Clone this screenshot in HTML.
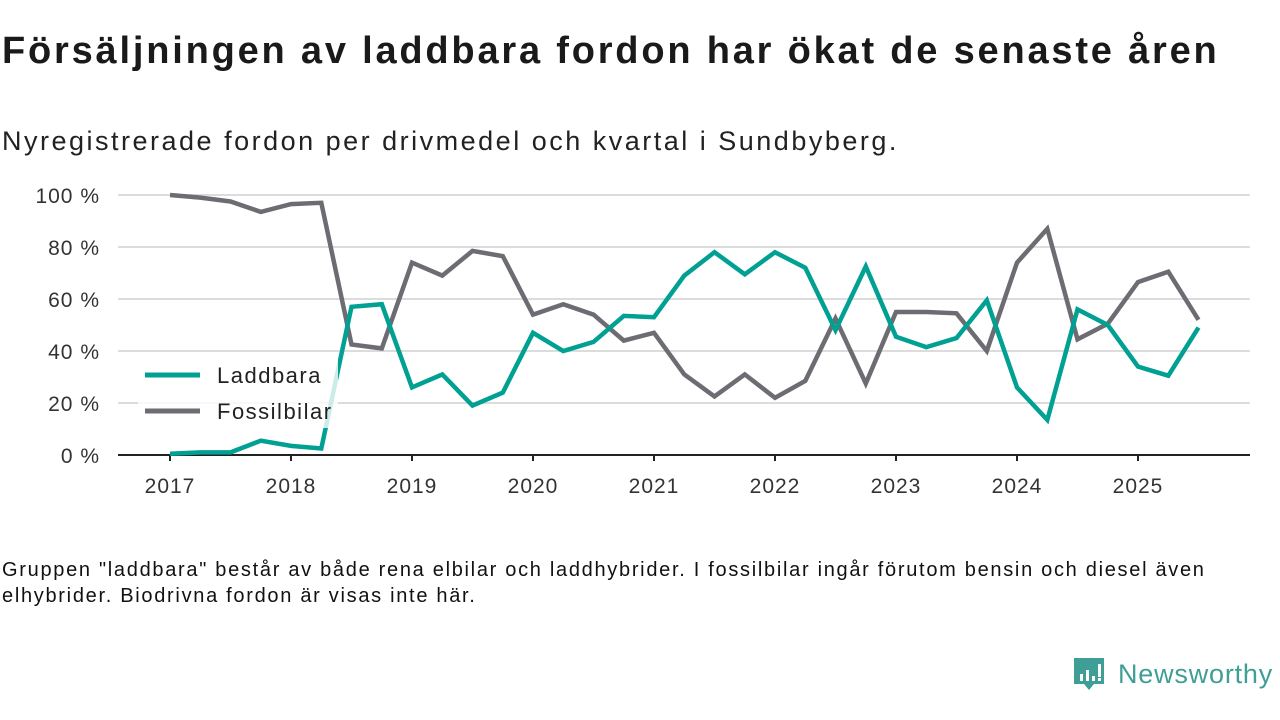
<!DOCTYPE html>
<html><head><meta charset="utf-8"><style>
body{margin:0;width:1280px;height:720px;background:#fff;font-family:"Liberation Sans","DejaVu Sans",sans-serif;overflow:hidden;position:relative;color:#111}
#title{position:absolute;left:2px;top:30px;font-size:38px;font-weight:bold;color:#1a1a1a;white-space:nowrap;letter-spacing:2.8px}
#sub{position:absolute;left:2px;top:126px;font-size:27px;color:#222;white-space:nowrap;letter-spacing:2.5px}
#note{position:absolute;left:2px;top:557px;font-size:20px;line-height:26px;color:#111;width:1230px;letter-spacing:1.7px}
#logo{position:absolute;left:1072px;top:656px}
svg text{font-family:"Liberation Sans","DejaVu Sans",sans-serif}
</style></head><body>
<div id="title">Försäljningen av laddbara fordon har ökat de senaste åren</div>
<div id="sub">Nyregistrerade fordon per drivmedel och kvartal i Sundbyberg.</div>
<svg id="chart" width="1280" height="520" style="position:absolute;left:0;top:0"></svg>
<div id="note">Gruppen "laddbara" består av både rena elbilar och laddhybrider. I fossilbilar ingår förutom bensin och diesel även<br>elhybrider. Biodrivna fordon är visas inte här.</div>
<div id="logo">
<svg width="210" height="40"><path d="M2 2h30v26h-10l-5 6-5-6H2z" fill="#3f9e96"/><rect x="8" y="18" width="3" height="7" fill="#fff"/><rect x="14" y="14" width="3" height="11" fill="#fff"/><rect x="20" y="20" width="3" height="5" fill="#fff"/><rect x="26" y="8" width="3" height="13" fill="#fff"/><rect x="26" y="22" width="3" height="3" fill="#fff"/>
<text x="46" y="27" font-size="27" fill="#3f9e96" letter-spacing="0.8">Newsworthy</text></svg></div>
<script>
const years=[2017,2018,2019,2020,2021,2022,2023,2024,2025];
const yTicks=[0,20,40,60,80,100];
const laddbara=[0.5,1,1,5.5,3.5,2.5,57,58,26,31,19,24,47,40,43.5,53.5,53,69,78,69.5,78,72,48,72.5,45.5,41.5,45,59.5,26,13.5,56,50,34,30.5,49];
const fossil=[100,99,97.5,93.5,96.5,97,42.5,41,74,69,78.5,76.5,54,58,54,44,47,31,22.5,31,22,28.5,52.5,27.5,55,55,54.5,40,74,87,44.5,50.5,66.5,70.5,52];
const NS="http://www.w3.org/2000/svg";
const svg=document.getElementById('chart');
const x0=170,xYear=121,y0=455,yPer=2.6;
const xs=t=>x0+t*xYear;
const ys=v=>y0-v*yPer;
function mk(tag,attrs,parent){const e=document.createElementNS(NS,tag);for(const k in attrs)e.setAttribute(k,attrs[k]);(parent||svg).appendChild(e);return e;}
yTicks.forEach(v=>{
 if(v>0){const g=mk('line',{x1:118,x2:1250,y1:ys(v),y2:ys(v),stroke:'#dcdcdc','stroke-width':2});
 
 }
 const t=mk('text',{x:100,y:ys(v)+8,'text-anchor':'end','font-size':21,fill:'#333','letter-spacing':1});t.textContent=v+' %';
 
 
});
const ax=mk('line',{x1:118,x2:1250,y1:y0,y2:y0,stroke:'#222','stroke-width':2});


years.forEach((yr,i)=>{
 mk('line',{x1:xs(i),x2:xs(i),y1:y0,y2:y0+6,stroke:'#222','stroke-width':2});
 const t=mk('text',{x:xs(i),y:y0+38,'text-anchor':'middle','font-size':21,fill:'#333','letter-spacing':1});t.textContent=yr;
 
 
});
function line(data,color,name){
 const pts=data.map((v,i)=>xs(i/4).toFixed(1)+','+ys(v).toFixed(1)).join(' ');
 const p=mk('polyline',{points:pts,fill:'none',stroke:color,'stroke-width':4.5,'stroke-linejoin':'miter'});
 
 
}
line(fossil,'#6d6c72','line-fossilbilar');
line(laddbara,'#00a093','line-laddbara');
const bg=mk('rect',{x:138,y:356,width:200,height:72,fill:'#fff',opacity:0.8});


[['Laddbara','#00a093',375],['Fossilbilar','#6d6c72',411]].forEach(([n,c,y])=>{
 const g=mk('g',{});
 
 
 mk('line',{x1:145,x2:200,y1:y,y2:y,stroke:c,'stroke-width':5},g);
 const t=mk('text',{x:217,y:y+8,'font-size':22,fill:'#222','letter-spacing':1.5},g);t.textContent=n;
});
</script>
</body></html>
